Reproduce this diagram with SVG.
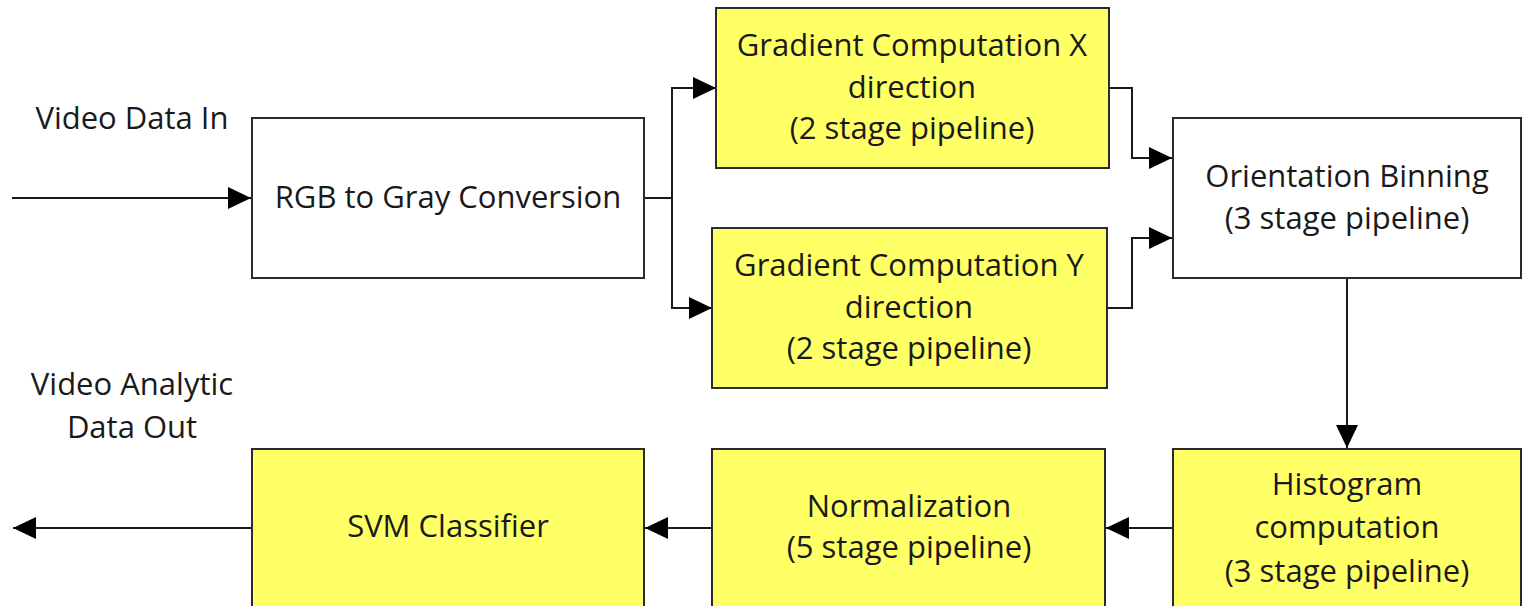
<svg xmlns="http://www.w3.org/2000/svg" width="1523" height="606" viewBox="0 0 1523 606">
  <style>
    .box { stroke: #2b2b2b; stroke-width: 2; }
    .plain { fill: #ffffff; }
    .hw { fill: #ffff66; }
    .lbl { font-family: "Open Sans", Lato, "Liberation Sans", sans-serif; font-size: 31px; fill: #1a1a1a; text-anchor: middle; }
    .wire { fill: none; stroke: #1a1a1a; stroke-width: 2; }
  </style>
  <defs>
    <marker id="arrow" markerUnits="userSpaceOnUse" markerWidth="24" markerHeight="24" viewBox="0 0 24 24" refX="23" refY="12" orient="auto">
      <path d="M0,1 L23,12 L0,23 Z" fill="#000"/>
    </marker>
  </defs>
  <rect width="1523" height="606" fill="#ffffff"/>

  <!-- pipeline connectors -->
  <g id="connectors">
    <path class="wire" d="M12,198 H251" marker-end="url(#arrow)"/>
    <path class="wire" d="M644,198 H672 V88 H716" marker-end="url(#arrow)"/>
    <path class="wire" d="M672,198 V308 H712" marker-end="url(#arrow)"/>
    <path class="wire" d="M1109,88 H1132 V158 H1172" marker-end="url(#arrow)"/>
    <path class="wire" d="M1107,308 H1132 V238 H1172" marker-end="url(#arrow)"/>
    <path class="wire" d="M1347,278 V448" marker-end="url(#arrow)"/>
    <path class="wire" d="M1173,528 H1106" marker-end="url(#arrow)"/>
    <path class="wire" d="M712,528 H645" marker-end="url(#arrow)"/>
    <path class="wire" d="M252,528 H13" marker-end="url(#arrow)"/>
  </g>

  <g id="label-in">
    <text class="lbl" x="132" y="129">Video Data In</text>
  </g>
  <g id="label-out">
    <text class="lbl" x="132" y="395">Video Analytic</text>
    <text class="lbl" x="132" y="438">Data Out</text>
  </g>

  <g id="rgb-to-gray">
    <rect class="box plain" x="252" y="118" width="392" height="160"/>
    <text class="lbl" x="448" y="208">RGB to Gray Conversion</text>
  </g>

  <g id="gradient-x">
    <rect class="box hw" x="716" y="8" width="393" height="160"/>
    <text class="lbl" x="912" y="56">Gradient Computation X</text>
    <text class="lbl" x="912" y="98">direction</text>
    <text class="lbl" x="912" y="139">(2 stage pipeline)</text>
  </g>

  <g id="gradient-y">
    <rect class="box hw" x="712" y="228" width="395" height="160"/>
    <text class="lbl" x="909" y="276">Gradient Computation Y</text>
    <text class="lbl" x="909" y="318">direction</text>
    <text class="lbl" x="909" y="359">(2 stage pipeline)</text>
  </g>

  <g id="orientation-binning">
    <rect class="box plain" x="1173" y="118" width="348" height="160"/>
    <text class="lbl" x="1347" y="187">Orientation Binning</text>
    <text class="lbl" x="1347" y="229">(3 stage pipeline)</text>
  </g>

  <g id="histogram">
    <rect class="box hw" x="1173" y="449" width="348" height="175"/>
    <text class="lbl" x="1347" y="495">Histogram</text>
    <text class="lbl" x="1347" y="538">computation</text>
    <text class="lbl" x="1347" y="582">(3 stage pipeline)</text>
  </g>

  <g id="normalization">
    <rect class="box hw" x="712" y="449" width="393" height="175"/>
    <text class="lbl" x="909" y="517">Normalization</text>
    <text class="lbl" x="909" y="558">(5 stage pipeline)</text>
  </g>

  <g id="svm-classifier">
    <rect class="box hw" x="252" y="449" width="392" height="175"/>
    <text class="lbl" x="448" y="537">SVM Classifier</text>
  </g>
</svg>
